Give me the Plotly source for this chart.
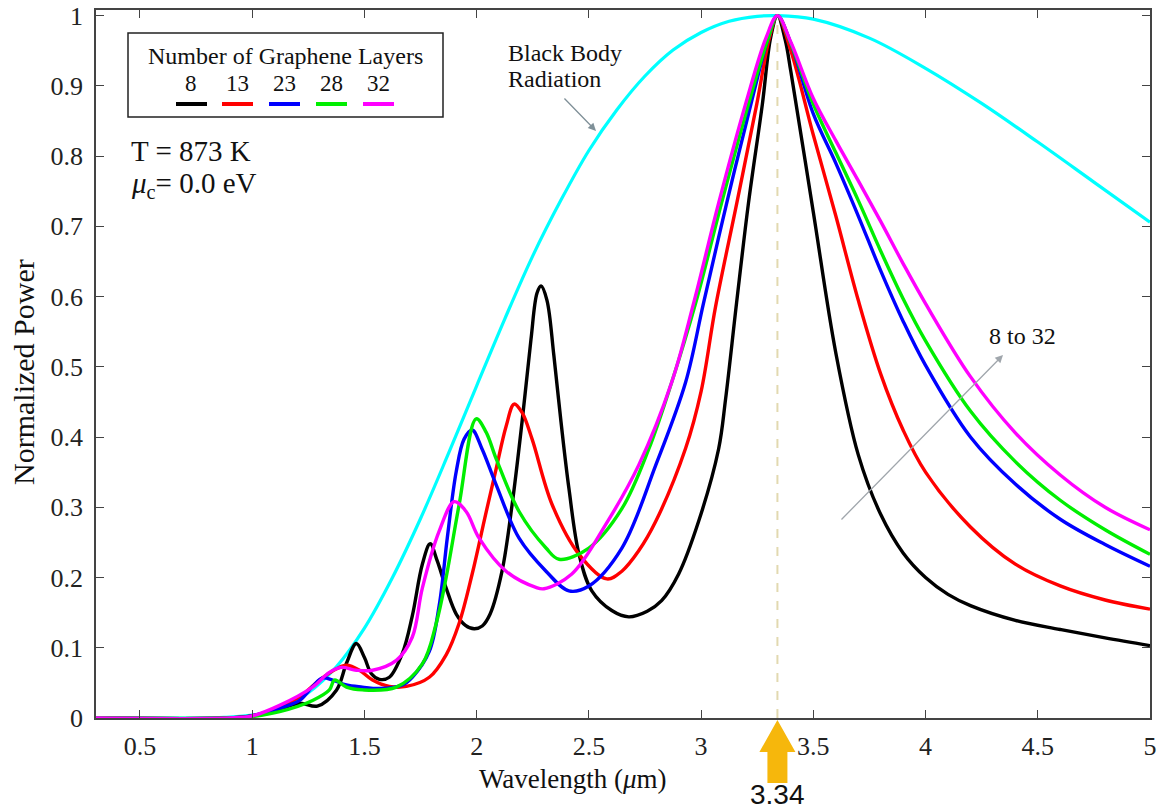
import plotly.graph_objects as go

# Wavelength (um) / normalized emitted power, read per curve
bb_x = [0.3, 0.5, 0.75, 0.875, 1.0, 1.125, 1.25, 1.375, 1.5, 1.625, 1.75, 1.875, 2.0, 2.125,
        2.25, 2.375, 2.5, 2.625, 2.75, 2.875, 3.0, 3.125, 3.25, 3.34, 3.5, 3.75, 4.0, 4.25,
        4.5, 4.75, 5.0]
bb_y = [0, 0, 0, 0.001, 0.004, 0.014, 0.036, 0.073, 0.128, 0.200, 0.284, 0.377, 0.473, 0.568,
        0.658, 0.737, 0.808, 0.866, 0.914, 0.951, 0.976, 0.992, 0.999, 1.0, 0.995, 0.968, 0.925,
        0.875, 0.820, 0.763, 0.706]

l8_x = [0.3, 0.9, 1.0, 1.1, 1.211, 1.29, 1.376, 1.42, 1.464, 1.5,
        1.531, 1.567, 1.611, 1.669, 1.713, 1.758, 1.793, 1.824, 1.864, 1.909,
        1.95, 1.989, 2.025, 2.06, 2.113, 2.158, 2.202, 2.242, 2.269, 2.287,
        2.313, 2.344, 2.376, 2.411, 2.456, 2.513, 2.602, 2.678, 2.76, 2.824,
        2.9, 2.989, 3.078, 3.109, 3.158, 3.211, 3.273, 3.31, 3.34, 3.375,
        3.4, 3.5, 3.6, 3.7, 3.8, 3.9, 4.0, 4.1, 4.2, 4.4,
        4.6, 4.8, 5.0]
l8_y = [0, 0, 0.003, 0.01, 0.021, 0.017, 0.04, 0.078, 0.106, 0.086,
        0.063, 0.055, 0.058, 0.092, 0.145, 0.219, 0.248, 0.224, 0.185, 0.148,
        0.132, 0.127, 0.131, 0.148, 0.209, 0.304, 0.421, 0.539, 0.605, 0.615,
        0.595, 0.516, 0.421, 0.327, 0.233, 0.181, 0.153, 0.144, 0.152, 0.167,
        0.205, 0.28, 0.383, 0.454, 0.591, 0.733, 0.874, 0.969, 1.0, 0.965,
        0.92, 0.72, 0.52, 0.375, 0.29, 0.235, 0.2, 0.176, 0.16, 0.139,
        0.126, 0.114, 0.103]

l13_x = [0.3, 0.9, 1.0, 1.122, 1.211, 1.3, 1.376, 1.42, 1.478, 1.536,
         1.611, 1.687, 1.789, 1.864, 1.922, 1.98, 2.04, 2.087, 2.131, 2.167,
         2.202, 2.247, 2.336, 2.456, 2.58, 2.647, 2.722, 2.798, 2.931, 3.0,
         3.064, 3.159, 3.248, 3.305, 3.34, 3.4, 3.5, 3.6, 3.7, 3.8,
         3.9, 4.0, 4.2, 4.4, 4.6, 4.8, 5.0]
l13_y = [0, 0, 0.003, 0.016, 0.03, 0.054, 0.07, 0.075, 0.068, 0.054,
         0.045, 0.045, 0.058, 0.09, 0.135, 0.205, 0.29, 0.355, 0.415, 0.447,
         0.435, 0.397, 0.304, 0.233, 0.198, 0.209, 0.238, 0.28, 0.384, 0.465,
         0.585, 0.733, 0.874, 0.969, 1.0, 0.95, 0.83, 0.715, 0.595, 0.49,
         0.41, 0.35, 0.272, 0.219, 0.188, 0.168, 0.155]

l23_x = [0.3, 0.9, 1.0, 1.122, 1.211, 1.269, 1.313, 1.358, 1.42, 1.491,
         1.567, 1.669, 1.713, 1.789, 1.833, 1.869, 1.909, 1.944, 1.98, 2.024,
         2.087, 2.189, 2.309, 2.411, 2.5, 2.647, 2.798, 2.931, 3.011, 3.114,
         3.222, 3.3, 3.34, 3.4, 3.5, 3.6, 3.7, 3.8, 3.9, 4.0,
         4.2, 4.4, 4.6, 4.8, 5.0]
l23_y = [0, 0, 0.003, 0.014, 0.025, 0.045, 0.057, 0.054, 0.047, 0.044,
         0.042, 0.047, 0.058, 0.095, 0.16, 0.256, 0.351, 0.397, 0.41, 0.383,
         0.332, 0.256, 0.209, 0.181, 0.188, 0.242, 0.36, 0.478, 0.591, 0.733,
         0.874, 0.969, 1.0, 0.96, 0.86, 0.79, 0.715, 0.637, 0.565, 0.502,
         0.4, 0.333, 0.283, 0.247, 0.216]

l28_x = [0.3, 0.9, 1.0, 1.122, 1.269, 1.344, 1.367, 1.42, 1.491, 1.642,
         1.758, 1.82, 1.864, 1.922, 1.998, 2.042, 2.087, 2.189, 2.309, 2.367,
         2.5, 2.647, 2.767, 2.869, 2.976, 3.091, 3.211, 3.3, 3.34, 3.4,
         3.5, 3.6, 3.7, 3.8, 3.9, 4.0, 4.2, 4.4, 4.6, 4.8,
         5.0]
l28_y = [0, 0, 0.002, 0.009, 0.025, 0.04, 0.054, 0.044, 0.04, 0.044,
         0.077, 0.135, 0.2, 0.304, 0.426, 0.407, 0.369, 0.294, 0.242, 0.226,
         0.242, 0.298, 0.383, 0.478, 0.591, 0.733, 0.874, 0.969, 1.0, 0.96,
         0.874, 0.805, 0.737, 0.665, 0.597, 0.537, 0.437, 0.365, 0.31, 0.268,
         0.233]

l32_x = [0.3, 0.9, 1.0, 1.122, 1.269, 1.344, 1.398, 1.464, 1.536, 1.642,
         1.713, 1.758, 1.833, 1.9, 1.953, 2.011, 2.131, 2.264, 2.3, 2.424,
         2.576, 2.722, 2.869, 2.967, 3.078, 3.198, 3.29, 3.34, 3.4, 3.5,
         3.6, 3.7, 3.8, 3.9, 4.0, 4.2, 4.4, 4.6, 4.8, 5.0]
l32_y = [0, 0, 0.003, 0.018, 0.044, 0.065, 0.072, 0.068, 0.068, 0.082,
         0.115, 0.185, 0.266, 0.308, 0.294, 0.256, 0.209, 0.186, 0.184, 0.205,
         0.276, 0.36, 0.478, 0.591, 0.733, 0.874, 0.969, 1.0, 0.962, 0.882,
         0.822, 0.765, 0.707, 0.647, 0.59, 0.486, 0.406, 0.346, 0.3, 0.268]

layer_labels = ["8", "13", "23", "28", "32"]
layer_colors = ["#000000", "#ff0000", "#0000ff", "#00ee00", "#ff00ff"]
layer_series = [(l8_x, l8_y), (l13_x, l13_y), (l23_x, l23_y), (l28_x, l28_y), (l32_x, l32_y)]

peak_wavelength = 3.34
x_ticks = [0.5, 1, 1.5, 2, 2.5, 3, 3.5, 4, 4.5, 5]
x_tick_text = ["0.5", "1", "1.5", "2", "2.5", "3", "3.5", "4", "4.5", "5"]
y_ticks = [0, 0.1, 0.2, 0.3, 0.4, 0.5, 0.6, 0.7, 0.8, 0.9, 1.0]
y_tick_text = ["0", "0.1", "0.2", "0.3", "0.4", "0.5", "0.6", "0.7", "0.8", "0.9", "1"]

W, H = 1162, 809
ML, MR, MT, MB = 96, 12, 10, 91
PW, PH = W - ML - MR, H - MT - MB
Y_TOP = 1.008
SERIF = "Liberation Serif, 'Times New Roman', Times, serif"
INK = "#111111"


def px(xp):
    return (xp - ML) / PW


def py(yp):
    return (H - MB - yp) / PH


def label(x, y, text, size, anchor="left", family=SERIF, **kw):
    return dict(xref="paper", yref="paper", x=px(x), y=py(y), text=text, showarrow=False,
                font=dict(family=family, size=size, color=INK),
                xanchor=anchor, yanchor="middle", **kw)


fig = go.Figure()

fig.add_trace(go.Scatter(x=bb_x, y=bb_y, mode="lines", name="Black Body",
                         line=dict(color="#00ffff", width=3.2, shape="spline", smoothing=1.0),
                         showlegend=False, hoverinfo="skip"))
for lab, col, (xs, ys) in zip(layer_labels, layer_colors, layer_series):
    fig.add_trace(go.Scatter(x=xs, y=ys, mode="lines", name=lab,
                             line=dict(color=col, width=3.4, shape="spline", smoothing=1.0),
                             showlegend=False))

shapes = []
# dashed marker at the resonance wavelength
shapes.append(dict(type="line", xref="x", yref="y", x0=peak_wavelength, x1=peak_wavelength,
                   y0=0, y1=1.0, line=dict(color="#e2d9b0", width=2, dash="dash"), layer="below"))

# block arrow below the axis pointing to the resonance wavelength
x_per_px = (5.0 - 0.304) / PW
hw, sw = 18 * x_per_px, 10 * x_per_px
tip, base, bottom = py(720), py(752), py(783)
c = peak_wavelength
path = (f"M {c} {tip} L {c + hw} {base} L {c + sw} {base} L {c + sw} {bottom} "
        f"L {c - sw} {bottom} L {c - sw} {base} L {c - hw} {base} Z")
shapes.append(dict(type="path", xref="x", yref="paper", path=path,
                   fillcolor="#f6b70c", line=dict(width=0)))

# legend box
shapes.append(dict(type="rect", xref="paper", yref="paper", x0=px(128), x1=px(443),
                   y0=py(117), y1=py(33), line=dict(color="#222222", width=1.5),
                   fillcolor="white"))
legend_num_x = [191, 237, 284, 331, 378]
for lab, col, cx in zip(layer_labels, layer_colors, legend_num_x):
    shapes.append(dict(type="line", xref="paper", yref="paper", x0=px(cx - 15), x1=px(cx + 16),
                       y0=py(104), y1=py(104), line=dict(color=col, width=4)))

annotations = [label(285, 56, "Number of Graphene Layers", 24, anchor="center")]
for lab, cx in zip(layer_labels, legend_num_x):
    annotations.append(label(cx, 84, lab, 23, anchor="center"))

annotations.append(label(129, 151, "T = 873 K", 29))
annotations.append(label(129, 185, "<i>μ</i><sub>c</sub>= 0.0 eV", 29))

annotations.append(label(506, 53, "Black Body", 24))
annotations.append(label(506, 79, "Radiation", 24))
annotations.append(dict(xref="paper", yref="paper", x=px(596), y=py(131), ax=563 - 596, ay=97 - 131,
                        axref="pixel", ayref="pixel", text="", showarrow=True,
                        arrowhead=2, arrowsize=1.2, arrowwidth=1.3, arrowcolor="#7f9098"))

annotations.append(label(1022, 336, "8 to 32", 24, anchor="center"))
annotations.append(dict(xref="paper", yref="paper", x=px(1003), y=py(355), ax=840 - 1003, ay=521 - 355,
                        axref="pixel", ayref="pixel", text="", showarrow=True,
                        arrowhead=2, arrowsize=1.2, arrowwidth=1.3, arrowcolor="#a0a6ac"))

annotations.append(dict(xref="x", yref="paper", x=peak_wavelength, y=py(794), text=f"{peak_wavelength:.2f}",
                        showarrow=False, font=dict(family="Liberation Sans", size=28, color=INK),
                        xanchor="center", yanchor="middle"))

annotations.append(label(573, 779, "Wavelength (<i>μ</i>m)", 27, anchor="center"))
annotations.append(label(23, 372, "Normalized Power", 30, anchor="center", textangle=-90))

axis_common = dict(showgrid=False, zeroline=False, showline=True, linecolor="#444444", linewidth=1.5,
                   mirror="ticks", ticks="inside", ticklen=8, tickwidth=1.2, tickcolor="#444444",
                   ticklabeloverflow="allow", automargin=False,
                   tickfont=dict(family=SERIF, size=26, color="#222222"))

fig.update_layout(
    width=W, height=H,
    margin=dict(l=ML, r=MR, t=MT, b=MB),
    paper_bgcolor="white", plot_bgcolor="white",
    showlegend=False,
    xaxis=dict(range=[0.304, 5.0], tickvals=x_ticks, ticktext=x_tick_text,
               ticklabelstandoff=4, **axis_common),
    yaxis=dict(range=[0, Y_TOP], tickvals=y_ticks, ticktext=y_tick_text,
               ticklabelstandoff=6, **axis_common),
    shapes=shapes,
    annotations=annotations,
)

fig.write_html("out.html")
